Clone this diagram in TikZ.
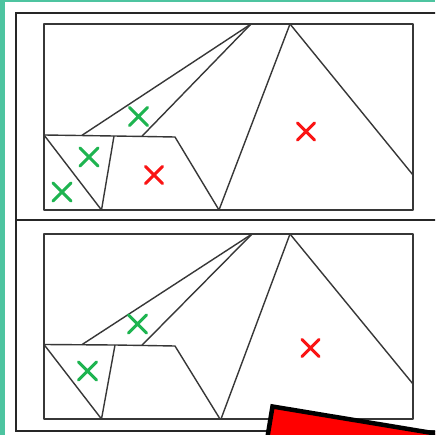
\documentclass[tikz,border=0pt]{standalone}
\definecolor{teal1}{RGB}{77,196,160}
\definecolor{xgreen}{RGB}{30,180,80}
\definecolor{xred}{RGB}{250,20,20}
\definecolor{lineg}{RGB}{55,55,55}
\begin{document}
\begin{tikzpicture}[x=1pt,y=-1pt,
  frame/.style={draw=black!85,line width=1.9pt},
  edge/.style={draw=lineg,line width=1.4pt,line join=round},
  crossg/.style={draw=xgreen,line width=3.1pt,line cap=round},
  crossr/.style={draw=xred,line width=3.1pt,line cap=round},
  redbox/.style={fill=red,draw=black,line width=4.5pt,line join=miter}]
\useasboundingbox (0,0) rectangle (435,435);
\clip (0,0) rectangle (435,435);
\fill[white] (0,0) rectangle (435,435);
% teal border
\fill[teal1] (0,0) rectangle (4.5,435);
\fill[teal1] (0,0) rectangle (435,2.5);
% outer frame
\draw[frame] (440,13) -- (16,13) -- (16,431) -- (440,431);
\draw[frame] (16,220) -- (440,220);

% ---------- top panel ----------
\coordinate (tA) at (251,24);
\coordinate (tB) at (290,24);
\draw[edge] (44,24) rectangle (413,210);
\draw[edge] (tB) -- (413,175);
\draw[edge] (tB) -- (219,210);
\draw[edge] (44,135) -- (114,136) -- (175,137) -- (219,210);
\draw[edge] (tA) -- (82,135.3);
\draw[edge] (tA) -- (142,136.2);
\draw[edge] (44,135) -- (101.5,210);
\draw[edge] (114,136) -- (101.5,210);
% crosses
\foreach \cx/\cy in {62/192, 89/157, 138.5/116.5}
  \draw[crossg] (\cx-9,\cy-9) -- (\cx+9,\cy+9) (\cx-9,\cy+9) -- (\cx+9,\cy-9);
\foreach \cx/\cy in {154/175, 306/131.5}
  \draw[crossr] (\cx-8.5,\cy-8.5) -- (\cx+8.5,\cy+8.5) (\cx-8.5,\cy+8.5) -- (\cx+8.5,\cy-8.5);

% ---------- bottom panel ----------
\coordinate (bA) at (252,234);
\coordinate (bB) at (290,234);
\draw[edge] (44,234) rectangle (413,419);
\draw[edge] (bB) -- (413,384);
\draw[edge] (bB) -- (221,419);
\draw[edge] (44,344.5) -- (115,345) -- (175,346) -- (220,419);
\draw[edge] (bA) -- (82,344.6);
\draw[edge] (bA) -- (142,345.2);
\draw[edge] (44,344.5) -- (101.5,419);
\draw[edge] (115,345) -- (101.5,419);
\foreach \cx/\cy in {137.5/324, 87.5/371}
  \draw[crossg] (\cx-9,\cy-9) -- (\cx+9,\cy+9) (\cx-9,\cy+9) -- (\cx+9,\cy-9);
\foreach \cx/\cy in {310.5/348}
  \draw[crossr] (\cx-8.5,\cy-8.5) -- (\cx+8.5,\cy+8.5) (\cx-8.5,\cy+8.5) -- (\cx+8.5,\cy-8.5);

% red box
\draw[redbox] (272.5,406.5) -- ++(197.3,32.7) -- ++(-16.3,98.7) -- ++(-197.3,-32.7) -- cycle;
\end{tikzpicture}
\end{document}
